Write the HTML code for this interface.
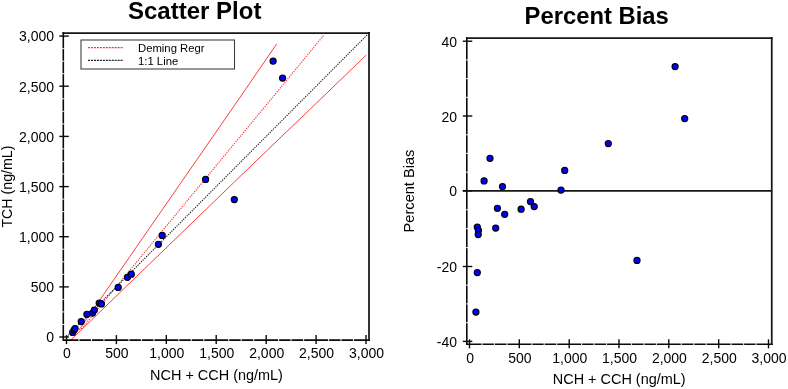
<!DOCTYPE html><html><head><meta charset="utf-8"><title>Scatter Plot / Percent Bias</title>
<style>html,body{margin:0;padding:0;background:#fff;}svg{display:block;font-family:"Liberation Sans",sans-serif;}</style></head><body>
<svg width="788" height="389" viewBox="0 0 788 389">
<rect width="788" height="389" fill="#fff"/>
<g>
<clipPath id="cl"><rect x="63.3" y="33.0" width="305.7" height="307.1"/></clipPath>
<g clip-path="url(#cl)" fill="none">
<path d="M79,330 L238.2,100 L276.6,44.1" stroke="#ff3d3d" stroke-width="1"/>
<path d="M70.8,340 L195,220 L267.5,150 L310,109.3 L366.1,55.2" stroke="#ff3d3d" stroke-width="1"/>
<path d="M81.3,329.1 L270.4,100 L323.4,35.7" stroke="#f33" stroke-width="1.1" stroke-dasharray="1.3,1.1"/>
<path d="M66.5,337.0 L367.2,34.9" stroke="#222" stroke-width="1.1" stroke-dasharray="1.3,1.1"/>
</g>
<path d="M63.3,32.0 V340.9 M62.5,340.1 H370.0" fill="none" stroke="#0a0a0a" stroke-width="1.6"/>
<path d="M62.5,33.0 H370.0 M369.0,32.0 V340.9" fill="none" stroke="#161616" stroke-width="1.75"/>
<path d="M79.0,338.9 V341.3" stroke="#fff" stroke-opacity="0.85" stroke-width="1.1"/>
<path d="M91.5,338.9 V341.3" stroke="#fff" stroke-opacity="0.85" stroke-width="1.1"/>
<path d="M103.9,338.9 V341.3" stroke="#fff" stroke-opacity="0.85" stroke-width="1.1"/>
<path d="M128.9,338.9 V341.3" stroke="#fff" stroke-opacity="0.85" stroke-width="1.1"/>
<path d="M141.4,338.9 V341.3" stroke="#fff" stroke-opacity="0.85" stroke-width="1.1"/>
<path d="M153.9,338.9 V341.3" stroke="#fff" stroke-opacity="0.85" stroke-width="1.1"/>
<path d="M178.8,338.9 V341.3" stroke="#fff" stroke-opacity="0.85" stroke-width="1.1"/>
<path d="M191.3,338.9 V341.3" stroke="#fff" stroke-opacity="0.85" stroke-width="1.1"/>
<path d="M203.8,338.9 V341.3" stroke="#fff" stroke-opacity="0.85" stroke-width="1.1"/>
<path d="M228.7,338.9 V341.3" stroke="#fff" stroke-opacity="0.85" stroke-width="1.1"/>
<path d="M241.2,338.9 V341.3" stroke="#fff" stroke-opacity="0.85" stroke-width="1.1"/>
<path d="M253.7,338.9 V341.3" stroke="#fff" stroke-opacity="0.85" stroke-width="1.1"/>
<path d="M278.6,338.9 V341.3" stroke="#fff" stroke-opacity="0.85" stroke-width="1.1"/>
<path d="M291.1,338.9 V341.3" stroke="#fff" stroke-opacity="0.85" stroke-width="1.1"/>
<path d="M303.6,338.9 V341.3" stroke="#fff" stroke-opacity="0.85" stroke-width="1.1"/>
<path d="M328.6,338.9 V341.3" stroke="#fff" stroke-opacity="0.85" stroke-width="1.1"/>
<path d="M341.0,338.9 V341.3" stroke="#fff" stroke-opacity="0.85" stroke-width="1.1"/>
<path d="M353.5,338.9 V341.3" stroke="#fff" stroke-opacity="0.85" stroke-width="1.1"/>
<path d="M62.1,324.5 H64.5" stroke="#fff" stroke-opacity="0.85" stroke-width="1.1"/>
<path d="M62.1,311.9 H64.5" stroke="#fff" stroke-opacity="0.85" stroke-width="1.1"/>
<path d="M62.1,299.4 H64.5" stroke="#fff" stroke-opacity="0.85" stroke-width="1.1"/>
<path d="M62.1,274.3 H64.5" stroke="#fff" stroke-opacity="0.85" stroke-width="1.1"/>
<path d="M62.1,261.8 H64.5" stroke="#fff" stroke-opacity="0.85" stroke-width="1.1"/>
<path d="M62.1,249.2 H64.5" stroke="#fff" stroke-opacity="0.85" stroke-width="1.1"/>
<path d="M62.1,224.2 H64.5" stroke="#fff" stroke-opacity="0.85" stroke-width="1.1"/>
<path d="M62.1,211.6 H64.5" stroke="#fff" stroke-opacity="0.85" stroke-width="1.1"/>
<path d="M62.1,199.1 H64.5" stroke="#fff" stroke-opacity="0.85" stroke-width="1.1"/>
<path d="M62.1,174.0 H64.5" stroke="#fff" stroke-opacity="0.85" stroke-width="1.1"/>
<path d="M62.1,161.5 H64.5" stroke="#fff" stroke-opacity="0.85" stroke-width="1.1"/>
<path d="M62.1,148.9 H64.5" stroke="#fff" stroke-opacity="0.85" stroke-width="1.1"/>
<path d="M62.1,123.9 H64.5" stroke="#fff" stroke-opacity="0.85" stroke-width="1.1"/>
<path d="M62.1,111.3 H64.5" stroke="#fff" stroke-opacity="0.85" stroke-width="1.1"/>
<path d="M62.1,98.8 H64.5" stroke="#fff" stroke-opacity="0.85" stroke-width="1.1"/>
<path d="M62.1,73.7 H64.5" stroke="#fff" stroke-opacity="0.85" stroke-width="1.1"/>
<path d="M62.1,61.2 H64.5" stroke="#fff" stroke-opacity="0.85" stroke-width="1.1"/>
<path d="M62.1,48.6 H64.5" stroke="#fff" stroke-opacity="0.85" stroke-width="1.1"/>
<path d="M66.5,335.1 V344.1" stroke="#0a0a0a" stroke-width="1.4"/>
<path d="M59.3,337.0 H68.8" stroke="#0a0a0a" stroke-width="1.4"/>
<text x="67.0" y="358.2" font-size="14" text-anchor="middle" fill="#000">0</text>
<text x="54" y="342.3" font-size="14" text-anchor="end" fill="#000">0</text>
<path d="M116.4,335.1 V344.1" stroke="#0a0a0a" stroke-width="1.4"/>
<path d="M59.3,286.9 H68.8" stroke="#0a0a0a" stroke-width="1.4"/>
<text x="116.9" y="358.2" font-size="14" text-anchor="middle" fill="#000">500</text>
<text x="54" y="292.2" font-size="14" text-anchor="end" fill="#000">500</text>
<path d="M166.3,335.1 V344.1" stroke="#0a0a0a" stroke-width="1.4"/>
<path d="M59.3,236.7 H68.8" stroke="#0a0a0a" stroke-width="1.4"/>
<text x="166.8" y="358.2" font-size="14" text-anchor="middle" fill="#000">1,000</text>
<text x="54" y="242.0" font-size="14" text-anchor="end" fill="#000">1,000</text>
<path d="M216.2,335.1 V344.1" stroke="#0a0a0a" stroke-width="1.4"/>
<path d="M59.3,186.6 H68.8" stroke="#0a0a0a" stroke-width="1.4"/>
<text x="216.8" y="358.2" font-size="14" text-anchor="middle" fill="#000">1,500</text>
<text x="54" y="191.9" font-size="14" text-anchor="end" fill="#000">1,500</text>
<path d="M266.2,335.1 V344.1" stroke="#0a0a0a" stroke-width="1.4"/>
<path d="M59.3,136.4 H68.8" stroke="#0a0a0a" stroke-width="1.4"/>
<text x="266.7" y="358.2" font-size="14" text-anchor="middle" fill="#000">2,000</text>
<text x="54" y="141.7" font-size="14" text-anchor="end" fill="#000">2,000</text>
<path d="M316.1,335.1 V344.1" stroke="#0a0a0a" stroke-width="1.4"/>
<path d="M59.3,86.2 H68.8" stroke="#0a0a0a" stroke-width="1.4"/>
<text x="316.6" y="358.2" font-size="14" text-anchor="middle" fill="#000">2,500</text>
<text x="54" y="91.5" font-size="14" text-anchor="end" fill="#000">2,500</text>
<path d="M366.0,335.1 V344.1" stroke="#0a0a0a" stroke-width="1.4"/>
<path d="M59.3,36.1 H68.8" stroke="#0a0a0a" stroke-width="1.4"/>
<text x="366.5" y="358.2" font-size="14" text-anchor="middle" fill="#000">3,000</text>
<text x="54" y="41.4" font-size="14" text-anchor="end" fill="#000">3,000</text>
<circle cx="72.7" cy="332.4" r="3.05" fill="#0000ff" stroke="#00000c" stroke-width="1.15"/>
<circle cx="74.1" cy="330" r="3.05" fill="#0000ff" stroke="#00000c" stroke-width="1.15"/>
<circle cx="75.1" cy="328.5" r="3.05" fill="#0000ff" stroke="#00000c" stroke-width="1.15"/>
<circle cx="81.2" cy="321.5" r="3.05" fill="#0000ff" stroke="#00000c" stroke-width="1.15"/>
<circle cx="86.9" cy="314.3" r="3.05" fill="#0000ff" stroke="#00000c" stroke-width="1.15"/>
<circle cx="92.5" cy="313.1" r="3.05" fill="#0000ff" stroke="#00000c" stroke-width="1.15"/>
<circle cx="94.4" cy="310.1" r="3.05" fill="#0000ff" stroke="#00000c" stroke-width="1.15"/>
<circle cx="99.2" cy="303.0" r="3.05" fill="#0000ff" stroke="#00000c" stroke-width="1.15"/>
<circle cx="101.4" cy="303.9" r="3.05" fill="#0000ff" stroke="#00000c" stroke-width="1.15"/>
<circle cx="118.2" cy="287.4" r="3.05" fill="#0000ff" stroke="#00000c" stroke-width="1.15"/>
<circle cx="127.4" cy="277.3" r="3.05" fill="#0000ff" stroke="#00000c" stroke-width="1.15"/>
<circle cx="131.3" cy="274.2" r="3.05" fill="#0000ff" stroke="#00000c" stroke-width="1.15"/>
<circle cx="158.4" cy="244.3" r="3.05" fill="#0000ff" stroke="#00000c" stroke-width="1.15"/>
<circle cx="162.2" cy="235.4" r="3.05" fill="#0000ff" stroke="#00000c" stroke-width="1.15"/>
<circle cx="234.3" cy="199.6" r="3.05" fill="#0000ff" stroke="#00000c" stroke-width="1.15"/>
<circle cx="205.6" cy="179.4" r="3.05" fill="#0000ff" stroke="#00000c" stroke-width="1.15"/>
<circle cx="282.6" cy="78.1" r="3.05" fill="#0000ff" stroke="#00000c" stroke-width="1.15"/>
<circle cx="273.1" cy="61.1" r="3.05" fill="#0000ff" stroke="#00000c" stroke-width="1.15"/>
<rect x="81" y="40" width="153.5" height="29" fill="#fff" stroke="#3a3a3a" stroke-width="1.05"/>
<path d="M88.1,47.7 H123.6" stroke="#f33" stroke-width="1.3" stroke-dasharray="2,0.95"/>
<path d="M88.1,60.4 H123.6" stroke="#222" stroke-width="1.3" stroke-dasharray="2,0.95"/>
<text x="138" y="51.6" font-size="11.3" fill="#000">Deming Regr</text>
<text x="138" y="65" font-size="11.3" fill="#000">1:1 Line</text>
<text x="194.7" y="18.8" font-size="24" font-weight="bold" text-anchor="middle" fill="#000">Scatter Plot</text>
<text x="216.5" y="379.8" font-size="14.45" text-anchor="middle" fill="#000">NCH + CCH (ng/mL)</text>
<text transform="translate(12.3,186.6) rotate(-90)" font-size="14.2" text-anchor="middle" fill="#000">TCH (ng/mL)</text>
</g>
<g>
<path d="M466.8,37.0 V345.1 M466.0,344.3 H772.8" fill="none" stroke="#0a0a0a" stroke-width="1.6"/>
<path d="M466.0,38.0 H772.8 M771.75,37.0 V345.1" fill="none" stroke="#161616" stroke-width="1.75"/>
<path d="M462.8,190.9 H771.75" stroke="#161616" stroke-width="1.85"/>
<path d="M482.0,343.1 V345.5" stroke="#fff" stroke-opacity="0.85" stroke-width="1.1"/>
<path d="M494.4,343.1 V345.5" stroke="#fff" stroke-opacity="0.85" stroke-width="1.1"/>
<path d="M506.9,343.1 V345.5" stroke="#fff" stroke-opacity="0.85" stroke-width="1.1"/>
<path d="M531.8,343.1 V345.5" stroke="#fff" stroke-opacity="0.85" stroke-width="1.1"/>
<path d="M544.2,343.1 V345.5" stroke="#fff" stroke-opacity="0.85" stroke-width="1.1"/>
<path d="M556.7,343.1 V345.5" stroke="#fff" stroke-opacity="0.85" stroke-width="1.1"/>
<path d="M581.6,343.1 V345.5" stroke="#fff" stroke-opacity="0.85" stroke-width="1.1"/>
<path d="M594.1,343.1 V345.5" stroke="#fff" stroke-opacity="0.85" stroke-width="1.1"/>
<path d="M606.5,343.1 V345.5" stroke="#fff" stroke-opacity="0.85" stroke-width="1.1"/>
<path d="M631.5,343.1 V345.5" stroke="#fff" stroke-opacity="0.85" stroke-width="1.1"/>
<path d="M643.9,343.1 V345.5" stroke="#fff" stroke-opacity="0.85" stroke-width="1.1"/>
<path d="M656.4,343.1 V345.5" stroke="#fff" stroke-opacity="0.85" stroke-width="1.1"/>
<path d="M681.3,343.1 V345.5" stroke="#fff" stroke-opacity="0.85" stroke-width="1.1"/>
<path d="M693.8,343.1 V345.5" stroke="#fff" stroke-opacity="0.85" stroke-width="1.1"/>
<path d="M706.2,343.1 V345.5" stroke="#fff" stroke-opacity="0.85" stroke-width="1.1"/>
<path d="M731.1,343.1 V345.5" stroke="#fff" stroke-opacity="0.85" stroke-width="1.1"/>
<path d="M743.6,343.1 V345.5" stroke="#fff" stroke-opacity="0.85" stroke-width="1.1"/>
<path d="M756.0,343.1 V345.5" stroke="#fff" stroke-opacity="0.85" stroke-width="1.1"/>
<path d="M465.6,322.7 H468.0" stroke="#fff" stroke-opacity="0.85" stroke-width="1.1"/>
<path d="M465.6,303.9 H468.0" stroke="#fff" stroke-opacity="0.85" stroke-width="1.1"/>
<path d="M465.6,285.2 H468.0" stroke="#fff" stroke-opacity="0.85" stroke-width="1.1"/>
<path d="M465.6,247.6 H468.0" stroke="#fff" stroke-opacity="0.85" stroke-width="1.1"/>
<path d="M465.6,228.7 H468.0" stroke="#fff" stroke-opacity="0.85" stroke-width="1.1"/>
<path d="M465.6,209.8 H468.0" stroke="#fff" stroke-opacity="0.85" stroke-width="1.1"/>
<path d="M465.6,172.2 H468.0" stroke="#fff" stroke-opacity="0.85" stroke-width="1.1"/>
<path d="M465.6,153.4 H468.0" stroke="#fff" stroke-opacity="0.85" stroke-width="1.1"/>
<path d="M465.6,134.8 H468.0" stroke="#fff" stroke-opacity="0.85" stroke-width="1.1"/>
<path d="M465.6,97.3 H468.0" stroke="#fff" stroke-opacity="0.85" stroke-width="1.1"/>
<path d="M465.6,78.6 H468.0" stroke="#fff" stroke-opacity="0.85" stroke-width="1.1"/>
<path d="M465.6,59.9 H468.0" stroke="#fff" stroke-opacity="0.85" stroke-width="1.1"/>
<path d="M469.5,339.3 V348.3" stroke="#0a0a0a" stroke-width="1.4"/>
<text x="470.1" y="363.1" font-size="14" text-anchor="middle" fill="#000">0</text>
<path d="M519.3,339.3 V348.3" stroke="#0a0a0a" stroke-width="1.4"/>
<text x="519.9" y="363.1" font-size="14" text-anchor="middle" fill="#000">500</text>
<path d="M569.2,339.3 V348.3" stroke="#0a0a0a" stroke-width="1.4"/>
<text x="569.8" y="363.1" font-size="14" text-anchor="middle" fill="#000">1,000</text>
<path d="M619.0,339.3 V348.3" stroke="#0a0a0a" stroke-width="1.4"/>
<text x="619.6" y="363.1" font-size="14" text-anchor="middle" fill="#000">1,500</text>
<path d="M668.8,339.3 V348.3" stroke="#0a0a0a" stroke-width="1.4"/>
<text x="669.4" y="363.1" font-size="14" text-anchor="middle" fill="#000">2,000</text>
<path d="M718.7,339.3 V348.3" stroke="#0a0a0a" stroke-width="1.4"/>
<text x="719.3" y="363.1" font-size="14" text-anchor="middle" fill="#000">2,500</text>
<path d="M768.5,339.3 V348.3" stroke="#0a0a0a" stroke-width="1.4"/>
<text x="769.1" y="363.1" font-size="14" text-anchor="middle" fill="#000">3,000</text>
<path d="M462.8,341.4 H472.3" stroke="#0a0a0a" stroke-width="1.4"/>
<text x="457" y="347.0" font-size="14" text-anchor="end" fill="#000">-40</text>
<path d="M462.8,266.5 H472.3" stroke="#0a0a0a" stroke-width="1.4"/>
<text x="457" y="272.1" font-size="14" text-anchor="end" fill="#000">-20</text>
<path d="M462.8,190.8 H472.3" stroke="#0a0a0a" stroke-width="1.4"/>
<text x="457" y="196.4" font-size="14" text-anchor="end" fill="#000">0</text>
<path d="M462.8,116.0 H472.3" stroke="#0a0a0a" stroke-width="1.4"/>
<text x="457" y="121.6" font-size="14" text-anchor="end" fill="#000">20</text>
<path d="M462.8,41.2 H472.3" stroke="#0a0a0a" stroke-width="1.4"/>
<text x="457" y="46.8" font-size="14" text-anchor="end" fill="#000">40</text>
<circle cx="675.1" cy="66.6" r="3.05" fill="#0000ff" stroke="#00000c" stroke-width="1.15"/>
<circle cx="684.7" cy="118.6" r="3.05" fill="#0000ff" stroke="#00000c" stroke-width="1.15"/>
<circle cx="608.3" cy="143.5" r="3.05" fill="#0000ff" stroke="#00000c" stroke-width="1.15"/>
<circle cx="564.7" cy="170.4" r="3.05" fill="#0000ff" stroke="#00000c" stroke-width="1.15"/>
<circle cx="561.0" cy="190.0" r="3.05" fill="#0000ff" stroke="#00000c" stroke-width="1.15"/>
<circle cx="490.0" cy="158.3" r="3.05" fill="#0000ff" stroke="#00000c" stroke-width="1.15"/>
<circle cx="484.1" cy="180.9" r="3.05" fill="#0000ff" stroke="#00000c" stroke-width="1.15"/>
<circle cx="502.5" cy="186.6" r="3.05" fill="#0000ff" stroke="#00000c" stroke-width="1.15"/>
<circle cx="497.4" cy="208.3" r="3.05" fill="#0000ff" stroke="#00000c" stroke-width="1.15"/>
<circle cx="504.7" cy="214.3" r="3.05" fill="#0000ff" stroke="#00000c" stroke-width="1.15"/>
<circle cx="521.1" cy="209.2" r="3.05" fill="#0000ff" stroke="#00000c" stroke-width="1.15"/>
<circle cx="530.5" cy="201.5" r="3.05" fill="#0000ff" stroke="#00000c" stroke-width="1.15"/>
<circle cx="534.2" cy="206.6" r="3.05" fill="#0000ff" stroke="#00000c" stroke-width="1.15"/>
<circle cx="495.7" cy="228.1" r="3.05" fill="#0000ff" stroke="#00000c" stroke-width="1.15"/>
<circle cx="477.3" cy="227.0" r="3.05" fill="#0000ff" stroke="#00000c" stroke-width="1.15"/>
<circle cx="478.4" cy="230.4" r="3.05" fill="#0000ff" stroke="#00000c" stroke-width="1.15"/>
<circle cx="478.2" cy="234.6" r="3.05" fill="#0000ff" stroke="#00000c" stroke-width="1.15"/>
<circle cx="477.3" cy="272.5" r="3.05" fill="#0000ff" stroke="#00000c" stroke-width="1.15"/>
<circle cx="475.9" cy="312.1" r="3.05" fill="#0000ff" stroke="#00000c" stroke-width="1.15"/>
<circle cx="637.0" cy="260.4" r="3.05" fill="#0000ff" stroke="#00000c" stroke-width="1.15"/>
<text x="596.7" y="23.5" font-size="23.8" font-weight="bold" text-anchor="middle" fill="#000">Percent Bias</text>
<text x="619.2" y="383.5" font-size="14.45" text-anchor="middle" fill="#000">NCH + CCH (ng/mL)</text>
<text transform="translate(414.1,191) rotate(-90)" font-size="14.6" text-anchor="middle" fill="#000">Percent Bias</text>
</g>
</svg></body></html>
